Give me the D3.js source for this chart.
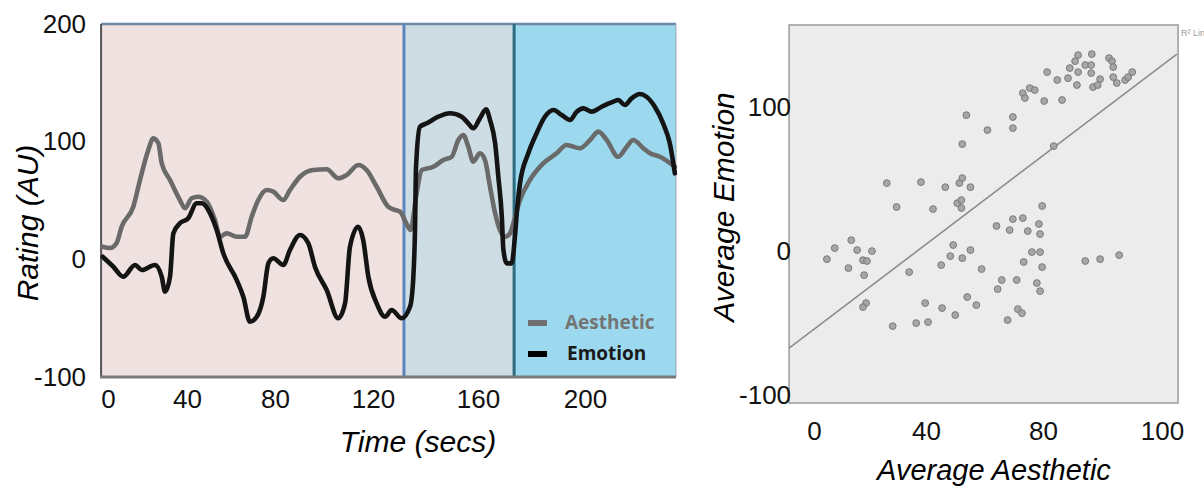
<!DOCTYPE html>
<html>
<head>
<meta charset="utf-8">
<script src="https://cdn.jsdelivr.net/npm/d3@7"></script>
<style>
body { margin: 0; background: #fff; }
svg { display: block; font-family: "Liberation Sans", Arial, sans-serif; }
</style>
</head>
<body>
<script>
// ---------- data ----------
var timeTicks = [0, 40, 80, 120, 160, 200];
var ratingTicks = [-100, 0, 100, 200];
var timeExtent = [-3.5, 234];
var phaseBounds = [-3.5, 131.8, 173.5, 234];

// [time (secs), rating (AU)]
var aestheticTrace = [[-2.7,10.7],[1,9.6],[4.4,13.9],[6.9,27.7],[12.8,44.7],[16.2,67.4],[20.4,92.9],[22.9,102.8],[25.5,98.6],[27.2,81.6],[31.4,67.4],[36.4,50.4],[39,43.4],[42.1,51.9],[45.1,53.2],[49,49],[52.7,33.4],[55,19.2],[58,22.1],[62.6,19.2],[66.4,19.2],[69.4,36.2],[72.4,50.4],[76.2,58.9],[79.2,57.5],[83.4,50.4],[86.1,58.9],[90.2,70.2],[95.6,75.9],[101.1,76.5],[105.8,68.9],[109.3,71.7],[114,80.2],[117.4,75.9],[121.4,61.7],[125.8,44.7],[127.7,42.5],[130.3,40.5],[132.8,30],[134.3,25],[136.6,56.1],[138.6,75.9],[143,78.7],[146.8,84.4],[150,87.2],[152.5,101.4],[154.4,105.7],[156.3,95.7],[158.2,83],[160.7,90.1],[162.6,84.4],[164.5,61.7],[166.4,39.1],[168.2,24.9],[170.1,19.2],[172,22.1],[173.2,30.6],[175.7,50.4],[179.4,67.4],[184.4,81.6],[189.4,90.1],[193.1,97.2],[198.1,94.4],[201.9,101.4],[205,108.5],[208.1,101.4],[212.4,87.2],[215.6,95.7],[218,101.4],[221.8,94.4],[224.3,90.1],[228,87.2],[233.6,78.7]];

var emotionTrace = [[-2.7,2.2],[2.7,-6.3],[7.7,-14.8],[13.7,-4.8],[17.1,-9.1],[23.8,-4.8],[27.2,-14.8],[28.9,-27.5],[31.4,-14.8],[33.1,22.1],[36.4,30.6],[40.6,34.9],[44.4,47.6],[46.7,47.6],[50.5,39.1],[53.5,24.9],[56.5,5.1],[62.6,-17.6],[65.6,-31.8],[68.6,-53],[71.7,-48.8],[74.7,-31.8],[77,-3.4],[79.2,0.9],[83.4,-4.8],[86.1,7.9],[90.2,20.7],[93.6,13.6],[96.3,-6.3],[101.1,-26.1],[105.8,-50.1],[108.6,-37.4],[110.6,10.7],[114,27.7],[116,16.4],[118.1,-14.8],[121.4,-37.4],[124.6,-48.8],[127.1,-43.1],[130.9,-50.1],[134.1,-40.3],[135.3,-17.6],[136,24.9],[136.4,78.7],[137.9,112.7],[140.5,115.6],[144.9,121.2],[149.3,124.1],[153.8,121.2],[156.3,115.6],[158.2,111.4],[160.7,119.8],[163,127.5],[164.5,118.4],[166.4,98.6],[167.6,70.2],[168.9,36.2],[169.5,7.9],[170.8,-3.4],[172.6,-3.4],[173.7,16.4],[174.6,41.9],[175.7,64.6],[178.8,90.1],[181.9,107.1],[185,121.2],[188.2,126.9],[191.3,122.6],[194.4,118.4],[196.9,125.5],[199.4,128.3],[202.5,125.5],[206.2,129.7],[210.6,134],[212.4,135.4],[214.9,131.1],[217.4,136.8],[220.5,140.5],[223,138.2],[226.1,129.7],[229.2,115.6],[231.7,98.6],[233.6,73.1]];

var legendLabels = ["Aesthetic", "Emotion"];

var aesTicks = [0, 40, 80, 100];
var emoTicks = [-100, 0, 100];
var aesExtent = [-8.9, 102.7];
var emoExtent = [-105.5, 157];

// [average aesthetic, average emotion]
var scatterPoints = [[85.9,136.1],[88.2,136.8],[91.1,134],[91.6,131.9],[85.4,131.9],[87.1,129.2],[88.1,129.2],[84.5,127.1],[85.9,124.3],[88.1,123.6],[91.8,127.8],[80.7,124.3],[82.4,118.8],[84.2,120.1],[85.7,115.3],[89.6,119.4],[88.4,113.9],[89.2,115.3],[91.8,120.8],[92.4,116.7],[93.8,118.8],[95,124.3],[94.3,120.8],[75.5,113.2],[77.2,111.8],[73.1,109.7],[73.8,106.3],[80.2,104.2],[83.2,104.9],[69.7,93.1],[69.7,85.4],[61,84],[53.8,94.4],[52.4,74.3],[81.8,72.9],
  [26,47.2],[38.2,47.9],[46.6,44.4],[51.4,47.2],[52.4,50.7],[55.2,44.4],[29.5,30.6],[42.4,29.2],[50.7,33.3],[52.1,35.4],[52.1,29.9],[79.7,31.3],[69.7,22.2],[73.1,22.9],[64.1,17.4],[68.6,14.6],[74.8,13.9],[78.6,18.8],[79,11.8],
  [13.3,7.6],[7.4,2.1],[15.4,0.7],[20.7,0],[4.6,-5.6],[17.5,-6.3],[18.9,-6.9],[12.3,-11.8],[17.9,-16.7],
  [49.3,4.2],[55.2,0.7],[48.3,-3.5],[52.4,-4.9],[45.2,-9.7],[59,-12.5],[34,-14.6],
  [76.2,-0.7],[79,-0.7],[73.4,-7.6],[79.7,-11.1],[65.9,-20.1],[71,-20.1],[64.5,-26.4],[77.9,-22.2],[79,-27.8],[71.4,-40.3],[72.8,-43.1],[67.9,-47.9],
  [87.1,-6.9],[89.6,-5.6],[92.8,-2.8],
  [18.6,-36.1],[17.5,-38.9],[39.7,-36.1],[45.5,-39.6],[54.1,-31.9],[57.2,-37.5],[50,-44.4],[28.1,-52.1],[36.5,-50],[40.7,-49.3]];

// fitted line end points [aesthetic, emotion]
var fitLine = [[-8.9, -67.4], [102.5, 136.8]];

// ---------- styles ----------
var phaseFills = ["#f1e2e2", "#cddde3", "#9cd9ee"];
var phaseEdges = ["#5a85bd", "#2b6a80"];
var traceColors = ["#6a6a6a", "#141414"];
var legendSwatch = ["#707070", "#000"];
var legendText = ["#747474", "#1a1a1a"];

var svg = d3.select("body").append("svg")
  .attr("width", 1204)
  .attr("height", 490);

// plain hyphen for negatives, as printed
var plainFormat = function(d) { return String(d); };

// ================= left panel : ratings over time =================
var xTime = d3.scaleLinear()
  .domain(timeTicks)
  .range([108, 187, 275, 373, 478, 585]);   // tick spacing follows the printed labels
var yRating = d3.scaleLinear().domain([-100, 200]).range([377, 24]);

var tLeft = xTime(timeExtent[0]), tRight = xTime(timeExtent[1]);
var tTop = yRating(200), tBottom = yRating(-100);

svg.append("g").selectAll("rect")
  .data(d3.pairs(phaseBounds))
  .enter().append("rect")
  .attr("x", function(d) { return xTime(d[0]); })
  .attr("y", tTop)
  .attr("width", function(d) { return xTime(d[1]) - xTime(d[0]); })
  .attr("height", tBottom - tTop)
  .attr("fill", function(d, i) { return phaseFills[i]; });

// frame
svg.append("line").attr("x1", tLeft).attr("x2", tRight).attr("y1", tTop).attr("y2", tTop)
  .attr("stroke", "#7088a8").attr("stroke-width", 2.5);
svg.append("line").attr("x1", tRight).attr("x2", tRight).attr("y1", tTop).attr("y2", tBottom)
  .attr("stroke", "#9aa4ad").attr("stroke-width", 1);
svg.append("line").attr("x1", tLeft).attr("x2", tLeft).attr("y1", tTop).attr("y2", tBottom)
  .attr("stroke", "#555").attr("stroke-width", 2);

// phase dividers
svg.append("g").selectAll("line")
  .data(phaseBounds.slice(1, 3))
  .enter().append("line")
  .attr("x1", function(d) { return xTime(d); })
  .attr("x2", function(d) { return xTime(d); })
  .attr("y1", tTop).attr("y2", tBottom)
  .attr("stroke", function(d, i) { return phaseEdges[i]; })
  .attr("stroke-width", 3);

svg.append("line").attr("x1", tLeft - 1).attr("x2", tRight).attr("y1", tBottom).attr("y2", tBottom)
  .attr("stroke", "#7a7a7a").attr("stroke-width", 3);

var traceLine = d3.line()
  .x(function(d) { return xTime(d[0]); })
  .y(function(d) { return yRating(d[1]); })
  .curve(d3.curveMonotoneX);

svg.append("g").selectAll("path")
  .data([aestheticTrace, emotionTrace])
  .enter().append("path")
  .attr("d", traceLine)
  .attr("fill", "none")
  .attr("stroke", function(d, i) { return traceColors[i]; })
  .attr("stroke-width", 4.6)
  .attr("stroke-linejoin", "round")
  .attr("stroke-linecap", "round");

// axes
var gxTime = svg.append("g")
  .attr("transform", "translate(0," + tBottom + ")")
  .call(d3.axisBottom(xTime).tickValues(timeTicks).tickFormat(plainFormat).tickSize(0).tickPadding(13));
var gyRating = svg.append("g")
  .attr("transform", "translate(" + tLeft + ",0)")
  .call(d3.axisLeft(yRating).tickValues(ratingTicks).tickFormat(plainFormat).tickSize(0).tickPadding(15));

svg.append("text")
  .attr("x", 418).attr("y", 452)
  .attr("text-anchor", "middle")
  .style("font-size", "30px").style("font-style", "italic")
  .text("Time (secs)");

svg.append("text")
  .attr("transform", "translate(38,223) rotate(-90)")
  .attr("text-anchor", "middle")
  .style("font-size", "30px").style("font-style", "italic")
  .text("Rating (AU)");

// legend
var legend = svg.append("g").selectAll("g")
  .data(legendLabels)
  .enter().append("g")
  .attr("transform", function(d, i) { return "translate(528," + (323 + i * 31) + ")"; });
legend.append("rect")
  .attr("x", 0).attr("y", -3).attr("width", 19).attr("height", 6)
  .attr("fill", function(d, i) { return legendSwatch[i]; });
legend.append("text")
  .attr("x", function(d, i) { return i == 0 ? 37 : 39; })
  .attr("y", 6)
  .style("font-family", "'Open Sans', sans-serif")
  .style("font-weight", "bold")
  .style("font-size", "19px")
  .attr("fill", function(d, i) { return legendText[i]; })
  .text(function(d) { return d; });

// ================= right panel : scatter =================
var xAes = d3.scaleLinear()
  .domain(aesTicks)
  .range([814, 926, 1043, 1162]);            // spacing follows the printed labels
var yEmo = d3.scaleLinear().domain(emoExtent).range([403, 25]);

var sLeft = xAes(aesExtent[0]), sRight = xAes(aesExtent[1]);
var sTop = yEmo(emoExtent[1]), sBottom = yEmo(emoExtent[0]);

svg.append("rect")
  .attr("x", sLeft).attr("y", sTop)
  .attr("width", sRight - sLeft).attr("height", sBottom - sTop)
  .attr("fill", "#ececec")
  .attr("stroke", "#9a9a9a").attr("stroke-width", 1.5);

svg.append("line")
  .attr("x1", xAes(fitLine[0][0])).attr("y1", yEmo(fitLine[0][1]))
  .attr("x2", xAes(fitLine[1][0])).attr("y2", yEmo(fitLine[1][1]))
  .attr("stroke", "#8c8c8c").attr("stroke-width", 1.6);

svg.append("g").selectAll("circle")
  .data(scatterPoints)
  .enter().append("circle")
  .attr("cx", function(d) { return xAes(d[0]); })
  .attr("cy", function(d) { return yEmo(d[1]); })
  .attr("r", 3.4)
  .attr("fill", "#a0a0a0")
  .attr("fill-opacity", 0.9)
  .attr("stroke", "#7a7a7a")
  .attr("stroke-width", 1);

var gxAes = svg.append("g")
  .attr("transform", "translate(0," + sBottom + ")")
  .call(d3.axisBottom(xAes).tickValues(aesTicks).tickFormat(plainFormat).tickSize(0).tickPadding(19));
var gyEmo = svg.append("g")
  .attr("transform", "translate(" + (sLeft + 2) + ",0)")
  .call(d3.axisLeft(yEmo).tickValues(emoTicks).tickFormat(plainFormat).tickSize(0).tickPadding(0));

svg.append("text")
  .attr("x", 994).attr("y", 480)
  .attr("text-anchor", "middle")
  .style("font-size", "29px").style("font-style", "italic")
  .text("Average Aesthetic");

svg.append("text")
  .attr("transform", "translate(734,207) rotate(-90)")
  .attr("text-anchor", "middle")
  .style("font-size", "30px").style("font-style", "italic")
  .text("Average Emotion");

svg.append("text")
  .attr("x", sRight + 3).attr("y", 36)
  .style("font-size", "9px")
  .attr("fill", "#9a9a9a")
  .text("R\u00b2 Lin");

// shared axis styling
[gxTime, gyRating, gxAes, gyEmo].forEach(function(g) {
  g.select(".domain").remove();
  g.selectAll("text")
    .attr("fill", "#111")
    .style("font-family", "'Liberation Sans', Arial, sans-serif")
    .style("font-size", "26px");
});
</script>
</body>
</html>
